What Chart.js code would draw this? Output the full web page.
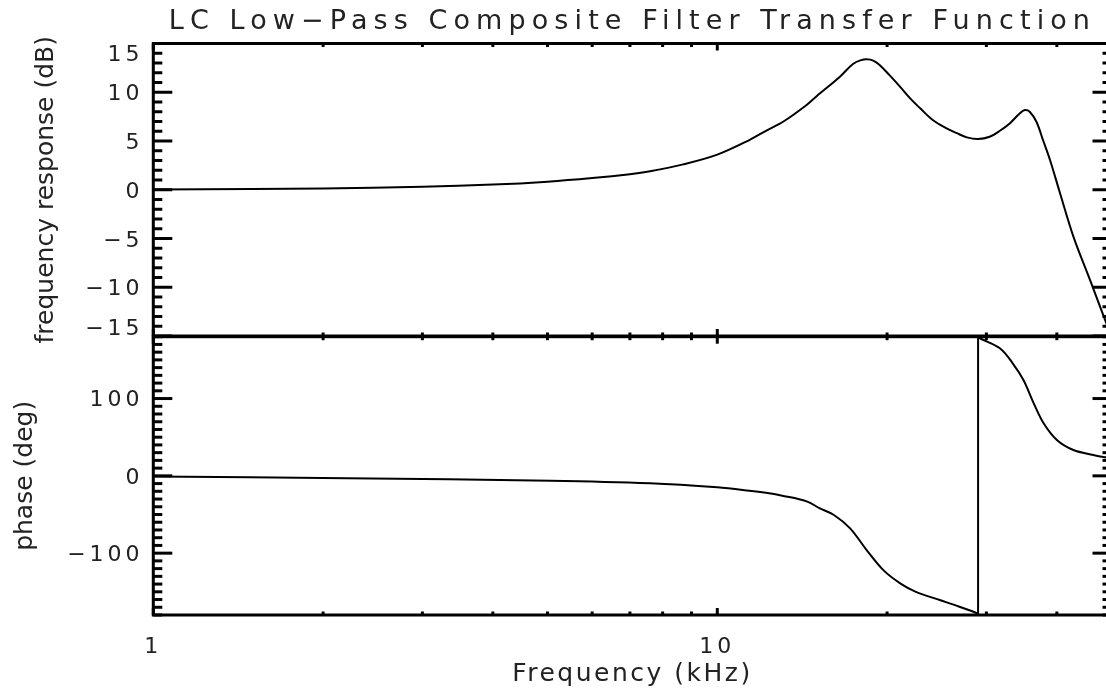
<!DOCTYPE html>
<html lang="en">
  <head>
    <meta charset="UTF-8" />
    <title>LC Low-Pass Composite Filter Transfer Function</title>
    <script src="https://cdn.jsdelivr.net/npm/chart.js"></script>
    <style>
      html,
      body {
        margin: 0;
        padding: 0;
        background: #fff;
        overflow: hidden;
      }
      .plot {
        position: relative;
        width: 1106px;
        height: 692px;
        overflow: hidden;
      }
      .plot canvas {
        position: absolute;
        left: 0;
        top: 0;
      }
    </style>
  </head>
  <body>
    <div class="plot">
      <canvas id="magnitudeChart" width="1114" height="692"></canvas>
      <canvas id="phaseChart" width="1114" height="692"></canvas>
    </div>

    <script>
      // Frequency response (kHz, dB)
      const magFreq = [
        1, 1.5, 2, 3, 4, 5, 6, 7, 7.6, 8.7, 10, 11.4, 12.2, 13.1, 14.4, 15.0,
        16.5, 17.4, 18.0, 18.4, 18.9, 19.4, 20.2, 21.1, 22.0, 22.9, 24.1, 25.5,
        26.6, 27.7, 29.0, 30.4, 31.7, 33.0, 34.4, 35.1, 35.8, 36.8, 37.8, 38.9,
        40.5, 42.8, 45.8, 48.7, 50,
      ];
      const magDb = [
        0.03, 0.07, 0.13, 0.3, 0.53, 0.83, 1.2, 1.6, 1.9, 2.6, 3.6, 5.1, 6.05,
        7.0, 8.7, 9.6, 11.6, 12.9, 13.3, 13.38, 13.25, 12.8, 11.75, 10.55, 9.35,
        8.35, 7.15, 6.3, 5.8, 5.37, 5.2, 5.43, 6.05, 6.8, 7.85, 8.17, 8.0, 6.97,
        5.1, 3.05, -0.3, -4.8, -9.25, -13.35, -15,
      ];

      // Phase (kHz, degrees), wraps from -180 to +180 near 29 kHz
      const phaseFreq = [
        1, 2.2, 5.06, 7.6, 10, 11.4, 12.2, 13.1, 14.4, 15.2, 16.1, 17.2, 18.4,
        19.7, 21.1, 22.5, 24.8, 26.8, 28.9, 29.0, 29.0, 29.2, 31.7, 33.4, 34.9,
        36.4, 37.9, 40.0, 42.8, 46.4, 48.7, 50,
      ];
      const phaseDeg = [
        -0.8, -3, -6.3, -9.7, -14.9, -19.2, -22, -26, -33, -42, -50.6, -67.9,
        -96, -122, -139, -150, -160.6, -169, -177.8, -180, 180, 178, 165, 145.6,
        124, 93.8, 68, 46.4, 33.4, 27, 24, 23,
      ];

      // Labelled ticks
      const magTicks = [-15, -10, -5, 0, 5, 10, 15];
      const phaseTicks = [-100, 0, 100];
      const freqTicks = [1, 10];

      const FONT = "'DejaVu Sans', 'Noto Sans', sans-serif";
      const INK = "#222";

      const fmt = (v) => (v < 0 ? "\u2212" + Math.abs(v) : String(v));
      const pts = (xs, ys) => xs.map((x, i) => ({ x: x, y: ys[i] }));

      // split the phase trace where it wraps round
      const wrapAt = phaseDeg.findIndex(
        (d, i) => i > 0 && Math.abs(d - phaseDeg[i - 1]) > 180
      );
      const phaseLow = pts(phaseFreq.slice(0, wrapAt), phaseDeg.slice(0, wrapAt));
      const phaseHigh = pts(phaseFreq.slice(wrapAt), phaseDeg.slice(wrapAt));
      const phaseJump = [phaseLow[phaseLow.length - 1], phaseHigh[0]];

      // box with inward ticks on all four sides
      const idlFrame = {
        id: "idlFrame",
        afterDatasetsDraw(chart, args, opts) {
          const { ctx, chartArea: a } = chart;
          const xs = chart.scales.x;
          const ys = chart.scales.y;
          const seg = (x1, y1, x2, y2) => {
            ctx.beginPath();
            ctx.moveTo(x1, y1);
            ctx.lineTo(x2, y2);
            ctx.stroke();
          };
          ctx.save();
          ctx.strokeStyle = "#000";
          ctx.lineWidth = 3;
          for (let v = ys.min; v <= ys.max + 1e-6; v += opts.yMinor) {
            const y = ys.getPixelForValue(v);
            const major = Math.abs(v % opts.yMajor) < 1e-6;
            const len = major ? 19 : 9;
            seg(a.left, y, a.left + len, y);
            seg(a.right, y, a.right - len, y);
          }
          for (let d = 1; d <= xs.max; d *= 10) {
            for (let k = 1; k <= 9; k++) {
              const v = k * d;
              if (v < xs.min || v > xs.max) continue;
              const x = xs.getPixelForValue(v);
              const len = k === 1 ? 7 : 3.5;
              seg(x, a.top, x, a.top + len);
              seg(x, a.bottom, x, a.bottom - len);
            }
          }
          ctx.strokeRect(a.left, a.top, a.right - a.left, a.bottom - a.top);
          ctx.restore();
        },
      };

      // the plot font is wide, so spread letters out per text element
      const spacing = {
        id: "spacing",
        afterLayout(chart, args, opts) {
          const wrap = (obj, name, px) => {
            if (!obj || px == null || obj["_sp_" + name]) return;
            const orig = obj[name];
            obj["_sp_" + name] = true;
            obj[name] = function (...rest) {
              const c = chart.ctx;
              c.save();
              c.letterSpacing = px + "px";
              orig.apply(this, rest);
              c.restore();
            };
          };
          wrap(chart.titleBlock, "draw", opts.title);
          Object.values(chart.scales).forEach((s) => {
            wrap(s, "drawLabels", opts.ticks);
            wrap(s, "drawTitle", s.axis === "x" ? opts.xTitle : opts.yTitle);
          });
        },
      };

      const lineStyle = {
        borderColor: "#000",
        borderWidth: 2,
        pointRadius: 0,
        fill: false,
        tension: 0.35,
      };

      // Top panel: frequency response
      new Chart(document.getElementById("magnitudeChart"), {
        type: "line",
        data: {
          datasets: [{ data: pts(magFreq, magDb), ...lineStyle }],
        },
        options: {
          responsive: false,
          animation: false,
          devicePixelRatio: 1,
          layout: { padding: { left: 0, right: 2.5, top: 0, bottom: 356 } },
          scales: {
            x: { type: "logarithmic", min: 1, max: 50, display: false },
            y: {
              min: -15,
              max: 15,
              afterFit: (s) => {
                s.width = 153.3;
              },
              afterBuildTicks: (s) => {
                s.ticks = magTicks.map((v) => ({ value: v }));
              },
              grid: { display: false, drawTicks: false },
              border: { display: false },
              ticks: {
                color: INK,
                padding: 9.7,
                labelOffset: 2.5,
                font: (c) => ({
                  family: FONT,
                  size: 22,
                  lineHeight:
                    c.tick && Math.abs(c.tick.value) === 15 ? "18px" : 1.2,
                }),
                callback: (v) =>
                  v === 15 ? ["", fmt(v)] : v === -15 ? [fmt(v), ""] : fmt(v),
              },
              title: {
                display: true,
                text: "frequency response (dB)",
                color: INK,
                font: { family: FONT, size: 25 },
                padding: { top: 31.7, bottom: 0 },
              },
            },
          },
          plugins: {
            legend: { display: false },
            tooltip: { enabled: false },
            title: {
              display: true,
              text: "LC Low\u2212Pass Composite Filter Transfer Function",
              fullSize: false,
              color: INK,
              font: { family: FONT, size: 27, weight: "normal" },
              padding: { top: 5.5, bottom: 5.6 },
            },
            idlFrame: { yMajor: 5, yMinor: 1 },
            spacing: { title: 6.1, ticks: 4, yTitle: 0 },
          },
        },
        plugins: [idlFrame, spacing],
      });

      // Bottom panel: phase
      new Chart(document.getElementById("phaseChart"), {
        type: "line",
        data: {
          datasets: [
            { data: phaseLow, ...lineStyle },
            { data: phaseJump, ...lineStyle, tension: 0 },
            { data: phaseHigh, ...lineStyle },
          ],
        },
        options: {
          responsive: false,
          animation: false,
          devicePixelRatio: 1,
          layout: { padding: { left: 0, right: 2.5, top: 336.7, bottom: 0 } },
          scales: {
            x: {
              type: "logarithmic",
              min: 1,
              max: 50,
              afterFit: (s) => {
                s.height = 77;
              },
              afterBuildTicks: (s) => {
                s.ticks = freqTicks.map((v) => ({ value: v }));
              },
              grid: { display: false, drawTicks: false },
              border: { display: false },
              ticks: {
                color: INK,
                padding: 19,
                autoSkip: false,
                maxRotation: 0,
                font: { family: FONT, size: 22 },
                callback: (v) => String(v),
              },
              title: {
                display: true,
                text: "Frequency (kHz)",
                color: INK,
                font: { family: FONT, size: 25 },
                padding: { top: 0, bottom: 2.5 },
              },
            },
            y: {
              min: -180,
              max: 180,
              afterFit: (s) => {
                s.width = 153.3;
              },
              afterBuildTicks: (s) => {
                s.ticks = phaseTicks.map((v) => ({ value: v }));
              },
              grid: { display: false, drawTicks: false },
              border: { display: false },
              ticks: {
                color: INK,
                padding: 9.7,
                labelOffset: 2,
                font: { family: FONT, size: 22 },
                callback: (v) => fmt(v),
              },
              title: {
                display: true,
                text: "phase (deg)",
                color: INK,
                font: { family: FONT, size: 25 },
                padding: { top: 10.8, bottom: 0 },
              },
            },
          },
          plugins: {
            legend: { display: false },
            tooltip: { enabled: false },
            idlFrame: { yMajor: 100, yMinor: 10 },
            spacing: { ticks: 4, xTitle: 2.5, yTitle: 0 },
          },
        },
        plugins: [idlFrame, spacing],
      });
    </script>
  </body>
</html>
